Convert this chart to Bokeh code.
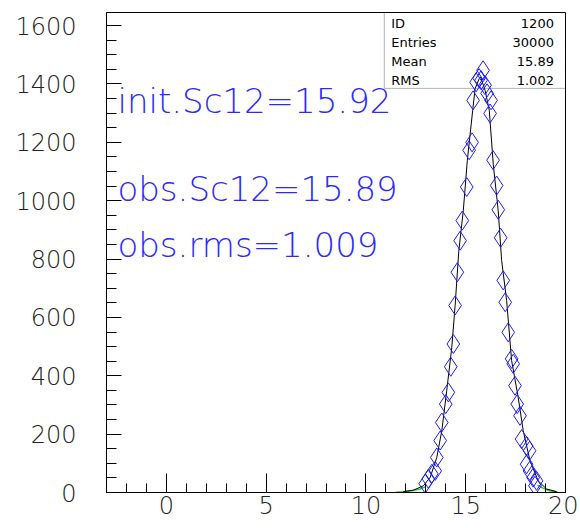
from bokeh.plotting import figure
from bokeh.models import Range1d, SingleIntervalTicker, Label, BoxAnnotation
from bokeh.embed import file_html
from bokeh.resources import INLINE

# fitted / smooth curve (black)
curve_x = [11.87, 12.38, 12.88, 13.22, 13.55, 13.8, 14.05, 14.3, 14.47, 14.65, 14.88, 15.08,
           15.35, 15.47, 15.68, 15.75, 15.97, 16.18, 16.38, 16.63, 16.8, 17.05, 17.3, 17.63,
           17.88, 18.22, 18.63, 19.05, 19.55]
curve_y = [3, 8, 23, 52, 120, 211, 350, 496, 641, 825, 967, 1138,
           1310, 1384, 1419, 1424, 1378, 1310, 1125, 965, 795, 658, 452, 326,
           212, 109, 40, 12, 3]

# observed points (blue diamonds)
pts_x = [12.97, 13.13, 13.3, 13.47, 13.55, 13.72, 13.8, 14.0, 14.13, 14.25, 14.38, 14.47,
         14.58, 14.72, 14.83, 15.05, 15.17, 15.32, 15.37, 15.52, 15.67, 15.77, 15.87,
         15.97, 16.07, 16.22, 16.27, 16.37, 16.55, 16.63, 16.75, 16.88, 16.98, 17.13,
         17.3, 17.38, 17.47, 17.58, 17.72, 17.8, 18.05, 18.2, 18.05, 18.2, 18.38, 18.55, 18.47]
pts_y = [30, 47, 64, 74, 120, 178, 240, 303, 343, 431, 509, 641,
         755, 863, 932, 1047, 1173, 1200, 1344, 1406, 1420, 1413, 1447,
         1396, 1368, 1299, 1344, 1139, 1052, 969, 873, 727, 652, 549,
         458, 441, 366, 303, 263, 183, 160, 143, 97, 74, 51, 40, 23]

# histogram tails (green)
tail_left_x = [11.5, 11.9, 12.3, 12.7, 13.0]
tail_left_y = [1, 3, 6, 12, 20]
tail_right_x = [18.6, 18.9, 19.2, 19.6]
tail_right_y = [25, 14, 6, 2]

# annotation texts
notes = ["init.Sc12=15.92", "obs.Sc12=15.89", "obs.rms=1.009"]
notes_y = [1341, 1039, 847]

stat_names = ["ID", "Entries", "Mean", "RMS"]
stat_values = ["1200", "30000", "15.89", "1.002"]
stat_rows_y = [1609, 1542, 1476, 1413]

FONT = "DejaVu Sans"
LIGHT = "'DejaVu Sans ExtraLight', 'DejaVu Sans Light', 'DejaVu Sans'"

p = figure(width=578, height=522, output_backend="svg", toolbar_location=None,
           x_range=Range1d(-3, 20), y_range=Range1d(0, 1645),
           min_border_left=106, min_border_right=13, min_border_top=12, min_border_bottom=30)
p.xgrid.visible = False
p.ygrid.visible = False
p.outline_line_color = "black"
p.outline_line_width = 1
p.background_fill_color = "white"
p.border_fill_color = "white"

p.xaxis.ticker = SingleIntervalTicker(interval=5, num_minor_ticks=5)
p.yaxis.ticker = SingleIntervalTicker(interval=200, num_minor_ticks=4)
for ax in (p.xaxis[0], p.yaxis[0]):
    ax.axis_line_color = "black"
    ax.major_tick_line_color = "black"
    ax.minor_tick_line_color = "black"
    ax.major_tick_out = 0
    ax.minor_tick_out = 0
    ax.major_label_text_font = LIGHT
    ax.major_label_text_font_size = "24px"
    ax.major_label_text_color = "#222222"
p.xaxis.major_tick_in = 19
p.xaxis.minor_tick_in = 9
p.yaxis.major_tick_in = 15
p.yaxis.minor_tick_in = 10
p.xaxis.major_label_standoff = 3
p.yaxis.major_label_standoff = 30

# stats box
p.add_layout(BoxAnnotation(left=10.92, right=20, bottom=1385, top=1645,
                           fill_alpha=0, line_color="black", line_width=1, level="underlay"))
for name, val, yy in zip(stat_names, stat_values, stat_rows_y):
    p.add_layout(Label(x=11.27, y=yy, text=name, text_font=FONT, text_font_size="13px",
                       text_color="black", text_baseline="middle", text_align="left"))
    p.add_layout(Label(x=19.42, y=yy, text=val, text_font=FONT, text_font_size="13px",
                       text_color="black", text_baseline="middle", text_align="right"))

p.line(tail_left_x, tail_left_y, line_color="#22cc22", line_width=1.5)
p.line(tail_right_x, tail_right_y, line_color="#22cc22", line_width=1.5)
p.line(curve_x, curve_y, line_color="black", line_width=1)
p.scatter(pts_x, pts_y, marker="diamond", size=19, fill_color=None,
          line_color="#1a1aff", line_width=1)

for t, yy in zip(notes, notes_y):
    p.add_layout(Label(x=-2.45, y=yy, text=t, text_font=LIGHT, text_font_size="34px",
                       text_color="#2a2aff", text_baseline="alphabetic"))

open("out.html", "w").write(file_html(p, INLINE))
